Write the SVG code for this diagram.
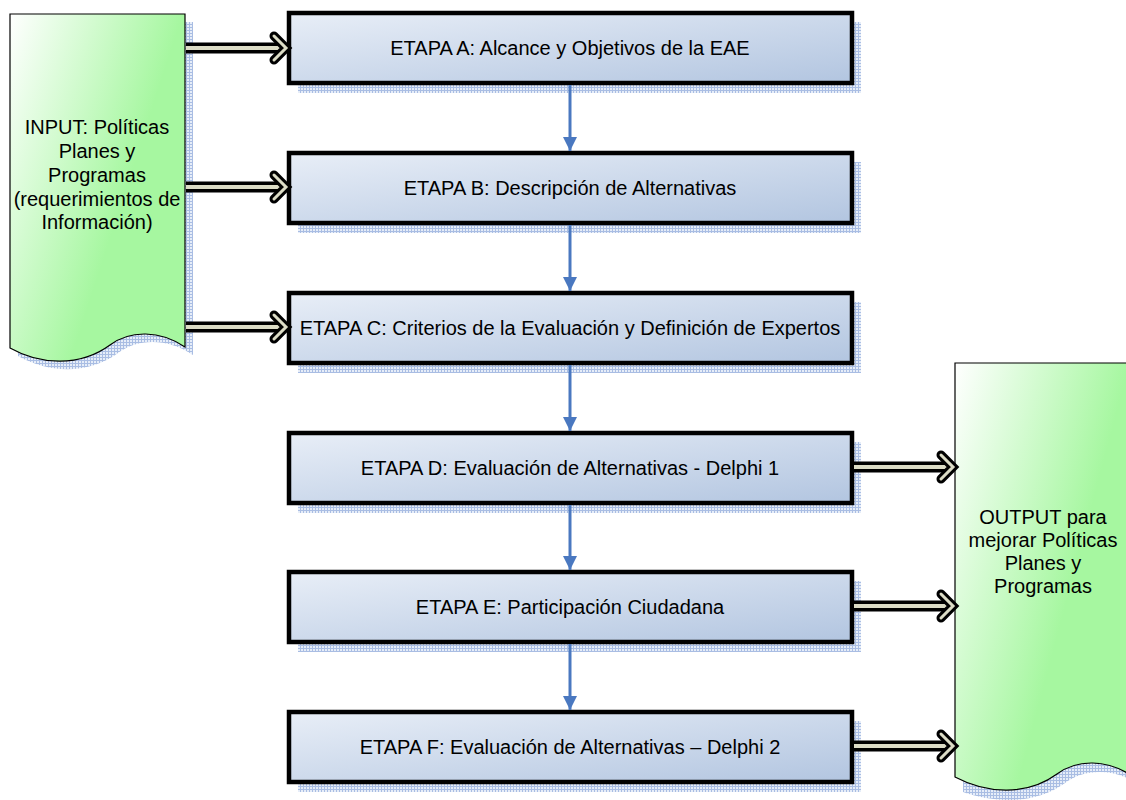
<svg xmlns="http://www.w3.org/2000/svg" width="1126" height="800" viewBox="0 0 1126 800">
<defs>
<pattern id="hatch" width="3" height="3" patternUnits="userSpaceOnUse">
<rect width="3" height="3" fill="#e6edf8"/>
<path d="M0,0.5H3M0.5,0V3" stroke="#a9bde3" stroke-width="1"/>
</pattern>
<linearGradient id="boxg" x1="0" y1="0" x2="1" y2="1">
<stop offset="0" stop-color="#e8eef7"/>
<stop offset="1" stop-color="#b2c5e0"/>
</linearGradient>
<linearGradient id="docg" x1="0" y1="0" x2="0.7" y2="0.45">
<stop offset="0" stop-color="#ffffff"/>
<stop offset="1" stop-color="#a6f7a0"/>
</linearGradient>
<marker id="blueHead" viewBox="0 0 14 16" refX="14" refY="8" markerWidth="14" markerHeight="16" markerUnits="userSpaceOnUse" orient="auto">
<path d="M0,1 L14,8 L0,15 Z" fill="#4a78c0"/>
</marker>
<style>
.box{fill:url(#boxg);stroke:#000;stroke-width:4.5}
.shadow{fill:url(#hatch)}
.doc{fill:url(#docg);stroke:#000;stroke-width:1.2}
.lbl{font-family:"Liberation Sans",Arial,sans-serif;font-size:20px;fill:#000;text-anchor:middle}
.blue{stroke:#4a78c0;stroke-width:3;fill:none}
.shaftO{stroke:#000;stroke-width:11;fill:none}
.shaftI{stroke:#dcdcc6;stroke-width:4;fill:none}
.headO{stroke:#000;stroke-width:9;fill:none;stroke-linejoin:miter;stroke-linecap:round}
.headI{stroke:#dcdcc6;stroke-width:3;fill:none;stroke-linejoin:miter;stroke-linecap:round}
</style>
</defs>
<rect width="1126" height="800" fill="#fff"/>

<g id="input">
<path class="shadow" d="M18,22 H193 V355 C168,338 138,338 118,353 C88,375 48,373 18,356 Z"/>
<path class="doc" d="M10,14 H185 V347 C160,330 130,330 110,345 C80,367 40,365 10,348 Z"/>
<text class="lbl" x="97" y="134">INPUT: Políticas</text>
<text class="lbl" x="97" y="158">Planes y</text>
<text class="lbl" x="97" y="182">Programas</text>
<text class="lbl" x="97" y="206">(requerimientos de</text>
<text class="lbl" x="97" y="229">Información)</text>
</g>

<g id="output">
<path class="shadow" d="M963,372 H1140 V785 C1115,768 1085,768 1065,783 C1035,805 995,803 963,792 Z"/>
<path class="doc" d="M955,363 H1132 V776 C1107,759 1077,759 1057,774 C1027,796 987,794 955,777 Z"/>
<text class="lbl" x="1043" y="524">OUTPUT para</text>
<text class="lbl" x="1043" y="547">mejorar Políticas</text>
<text class="lbl" x="1043" y="570">Planes y</text>
<text class="lbl" x="1043" y="593">Programas</text>
</g>

<g id="etapaA">
<rect class="shadow" x="298" y="22" width="563" height="71"/>
<rect class="box" x="289" y="13" width="563" height="70"/>
<text class="lbl" x="570" y="55">ETAPA A: Alcance y Objetivos de la EAE</text>
</g>
<g id="etapaB">
<rect class="shadow" x="298" y="162" width="563" height="71"/>
<rect class="box" x="289" y="153" width="563" height="70"/>
<text class="lbl" x="570" y="195">ETAPA B: Descripción de Alternativas</text>
</g>
<g id="etapaC">
<rect class="shadow" x="298" y="302" width="563" height="71"/>
<rect class="box" x="289" y="293" width="563" height="70"/>
<text class="lbl" x="570" y="335">ETAPA C: Criterios de la Evaluación y Definición de Expertos</text>
</g>
<g id="etapaD">
<rect class="shadow" x="298" y="442" width="563" height="71"/>
<rect class="box" x="289" y="433" width="563" height="70"/>
<text class="lbl" x="570" y="475">ETAPA D: Evaluación de Alternativas - Delphi 1</text>
</g>
<g id="etapaE">
<rect class="shadow" x="298" y="581" width="563" height="71"/>
<rect class="box" x="289" y="572" width="563" height="70"/>
<text class="lbl" x="570" y="614">ETAPA E: Participación Ciudadana</text>
</g>
<g id="etapaF">
<rect class="shadow" x="298" y="721" width="563" height="71"/>
<rect class="box" x="289" y="712" width="563" height="70"/>
<text class="lbl" x="570" y="754">ETAPA F: Evaluación de Alternativas – Delphi 2</text>
</g>

<g id="connectors">
<path class="blue" d="M570,85 V151" marker-end="url(#blueHead)"/>
<path class="blue" d="M570,225 V291" marker-end="url(#blueHead)"/>
<path class="blue" d="M570,365 V431" marker-end="url(#blueHead)"/>
<path class="blue" d="M570,505 V570" marker-end="url(#blueHead)"/>
<path class="blue" d="M570,644 V710" marker-end="url(#blueHead)"/>

<g id="in1">
<path class="shaftO" d="M186,48 H282"/><path class="shaftI" d="M186,48 H283"/>
<path class="headO" d="M274,36 L286,48 L274,60"/><path class="headI" d="M274,36 L286,48 L274,60"/>
</g>
<g id="in2">
<path class="shaftO" d="M186,187 H282"/><path class="shaftI" d="M186,187 H283"/>
<path class="headO" d="M274,175 L286,187 L274,199"/><path class="headI" d="M274,175 L286,187 L274,199"/>
</g>
<g id="in3">
<path class="shaftO" d="M186,327 H282"/><path class="shaftI" d="M186,327 H283"/>
<path class="headO" d="M274,315 L286,327 L274,339"/><path class="headI" d="M274,315 L286,327 L274,339"/>
</g>
<g id="out1">
<path class="shaftO" d="M854,467 H949"/><path class="shaftI" d="M854,467 H950"/>
<path class="headO" d="M941,455 L953,467 L941,479"/><path class="headI" d="M941,455 L953,467 L941,479"/>
</g>
<g id="out2">
<path class="shaftO" d="M854,606 H949"/><path class="shaftI" d="M854,606 H950"/>
<path class="headO" d="M941,594 L953,606 L941,618"/><path class="headI" d="M941,594 L953,606 L941,618"/>
</g>
<g id="out3">
<path class="shaftO" d="M854,746 H949"/><path class="shaftI" d="M854,746 H950"/>
<path class="headO" d="M941,734 L953,746 L941,758"/><path class="headI" d="M941,734 L953,746 L941,758"/>
</g>
</g>
</svg>
